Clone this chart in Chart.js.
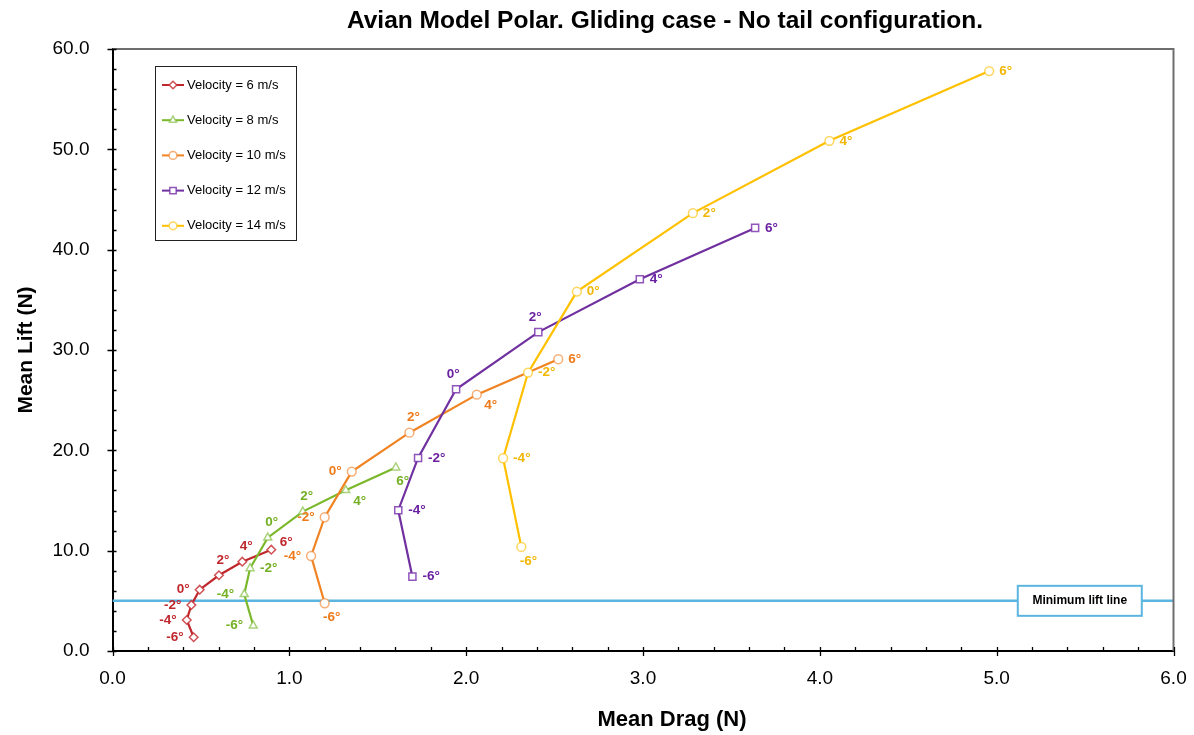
<!DOCTYPE html>
<html>
<head>
<meta charset="utf-8">
<script src="https://cdn.jsdelivr.net/npm/chart.js@4.4.1/dist/chart.umd.min.js"></script>
<style>
html,body{margin:0;padding:0;background:#fff;}
#wrap{width:1194px;height:735px;position:relative;}
</style>
</head>
<body>
<div id="wrap"><canvas id="c" width="1194" height="735"></canvas></div>
<script>
// ---------------- DATA ----------------
const chartTitle = 'Avian Model Polar. Gliding case - No tail configuration.';
const xAxisTitle = 'Mean Drag (N)';
const yAxisTitle = 'Mean Lift (N)';
const angles = [-6, -4, -2, 0, 2, 4, 6];
const seriesNames = ['Velocity = 6 m/s', 'Velocity = 8 m/s', 'Velocity = 10 m/s', 'Velocity = 12 m/s', 'Velocity = 14 m/s'];
const drag6  = [0.459, 0.420, 0.446, 0.493, 0.602, 0.734, 0.898];
const lift6  = [1.37, 3.09, 4.59, 6.11, 7.55, 8.90, 10.10];
const drag8  = [0.796, 0.745, 0.778, 0.878, 1.076, 1.319, 1.602];
const lift8  = [2.52, 5.65, 8.24, 11.30, 13.89, 16.02, 18.28];
const drag10 = [1.200, 1.123, 1.200, 1.353, 1.679, 2.060, 2.521];
const lift10 = [4.76, 9.47, 13.33, 17.88, 21.76, 25.55, 29.08];
const drag12 = [1.696, 1.616, 1.728, 1.943, 2.408, 2.982, 3.634];
const lift12 = [7.41, 14.03, 19.24, 26.09, 31.78, 37.06, 42.17];
const drag14 = [2.312, 2.209, 2.350, 2.626, 3.282, 4.054, 4.958];
const lift14 = [10.37, 19.21, 27.75, 35.82, 43.64, 50.85, 57.80];
const minLift = 5.0;
const minLiftLabel = 'Minimum lift line';
const minLiftLabelAt = 5.47;
const xTickLabels = ['0.0', '1.0', '2.0', '3.0', '4.0', '5.0', '6.0'];
const yTickLabels = ['0.0', '10.0', '20.0', '30.0', '40.0', '50.0', '60.0'];

// ---------------- STYLE ----------------
const FONT = '"Liberation Sans", Arial, Helvetica, sans-serif';
const lineColors  = ['#C0272D', '#7AB82A', '#F08322', '#7030A0', '#FFC000'];
const markerColors = ['rgba(200,50,55,0.85)', 'rgba(140,195,80,0.75)', 'rgba(242,140,60,0.7)', 'rgba(125,55,175,0.85)', 'rgba(255,200,40,0.75)'];
const textColors  = ['#C0272D', '#73B023', '#EE7A1A', '#6A20A0', '#F2B705'];
const pointStyles = ['rectRot', 'triangle', 'circle', 'rect', 'circle'];
const pointRadii  = [4.3, 4.6, 4.4, 5, 4.4];
// label placement per point: l=left, r=right, t=top, tl=top-left, tr=top-right, b=bottom, br=bottom-right
const placements = [
  ['l', 'l', 'l', 'l', 't', 't', 'tr'],
  ['l', 'l', 'r', 't', 't', 'br', 'b'],
  ['b', 'l', 'l', 'l', 't', 'br', 'r'],
  ['r', 'r', 'r', 'tl', 'tl', 'r', 'r'],
  ['b', 'r', 'r', 'r', 'r', 'r', 'r']
];

const dragSets = [drag6, drag8, drag10, drag12, drag14];
const liftSets = [lift6, lift8, lift10, lift12, lift14];

const datasets = seriesNames.map((name, i) => ({
  label: name,
  data: dragSets[i].map((d, k) => ({x: d, y: liftSets[i][k]})),
  showLine: true,
  borderColor: lineColors[i],
  backgroundColor: lineColors[i],
  borderWidth: 2.2,
  pointStyle: pointStyles[i],
  pointRadius: pointRadii[i],
  pointBorderWidth: 1.5,
  pointBackgroundColor: '#ffffff',
  pointBorderColor: markerColors[i],
  order: 5 - i,
  isSeries: true
}));
datasets.push({
  label: minLiftLabel,
  data: [{x: 0, y: minLift}, {x: 6, y: minLift}],
  showLine: true,
  borderColor: '#5BB5E0',
  borderWidth: 2.5,
  pointRadius: 0,
  order: 10,
  isSeries: false
});

const decor = {
  id: 'decor',
  beforeDraw(chart) {
    const ctx = chart.ctx;
    ctx.save();
    ctx.fillStyle = '#fff';
    ctx.fillRect(0, 0, chart.width, chart.height);
    ctx.restore();
  },
  afterDatasetsDraw(chart) {
    const ctx = chart.ctx;
    const xs = chart.scales.x, ys = chart.scales.y;
    const a = chart.chartArea;
    ctx.save();
    // plot frame top & right
    ctx.strokeStyle = '#6E6E6E';
    ctx.lineWidth = 2;
    ctx.beginPath();
    ctx.moveTo(a.left, a.top);
    ctx.lineTo(a.right, a.top);
    ctx.lineTo(a.right, a.bottom);
    ctx.stroke();

    // ticks
    ctx.strokeStyle = '#000';
    ctx.lineWidth = 1.3;
    ctx.beginPath();
    for (let v = 0; v <= 6.0001; v += 0.2) {
      const px = Math.round(xs.getPixelForValue(v)) + 0.5;
      const major = Math.abs(v - Math.round(v)) < 1e-6;
      ctx.moveTo(px, a.bottom - 4);
      ctx.lineTo(px, a.bottom + (major ? 5 : 0));
    }
    for (let v = 0; v <= 60.0001; v += 2) {
      const py = Math.round(ys.getPixelForValue(v)) + 0.5;
      const major = Math.abs(v / 10 - Math.round(v / 10)) < 1e-6;
      ctx.moveTo(a.left - (major ? 5 : 0), py);
      ctx.lineTo(a.left + 4, py);
    }
    ctx.stroke();

    // min lift label box
    const bx = xs.getPixelForValue(minLiftLabelAt), by = ys.getPixelForValue(minLift);
    ctx.font = 'bold 12px ' + FONT;
    const bw = 124, bh = 30;
    ctx.fillStyle = '#fff';
    ctx.fillRect(bx - bw / 2, by - bh / 2, bw, bh);
    ctx.strokeStyle = '#5BB5E0';
    ctx.lineWidth = 2;
    ctx.strokeRect(bx - bw / 2, by - bh / 2, bw, bh);
    ctx.fillStyle = '#000';
    ctx.textAlign = 'center';
    ctx.textBaseline = 'middle';
    ctx.fillText(minLiftLabel, bx, by);

    // point labels
    ctx.font = 'bold 13.5px ' + FONT;
    chart.data.datasets.forEach((ds, i) => {
      if (!ds.isSeries) return;
      const meta = chart.getDatasetMeta(i);
      meta.data.forEach((pt, k) => {
        const txt = angles[k] + '°';
        const p = placements[i][k];
        let x = pt.x, y = pt.y, al = 'center';
        if (p === 'l') { x -= 10; al = 'right'; }
        else if (p === 'r') { x += 10; al = 'left'; }
        else if (p === 't') { x += 4; y -= 15; }
        else if (p === 'tl') { x -= 3; y -= 15; }
        else if (p === 'tr') { x += 15; y -= 7; }
        else if (p === 'b') { x += 7; y += 14; }
        else if (p === 'br') { x += 14; y += 11; }
        ctx.fillStyle = textColors[i];
        ctx.textAlign = al;
        ctx.textBaseline = 'middle';
        ctx.fillText(txt, x, y);
      });
    });

    // legend
    const lx = 155, ly = 66, lw = 141, lh = 174;
    ctx.fillStyle = '#fff';
    ctx.fillRect(lx, ly, lw, lh);
    ctx.strokeStyle = '#222';
    ctx.lineWidth = 1;
    ctx.strokeRect(lx + 0.5, ly + 0.5, lw, lh);
    ctx.font = '13px ' + FONT;
    chart.data.datasets.forEach((ds, i) => {
      if (!ds.isSeries) return;
      const ry = 85 + i * 35.2;
      ctx.strokeStyle = lineColors[i];
      ctx.lineWidth = 2;
      ctx.beginPath();
      ctx.moveTo(162, ry);
      ctx.lineTo(184, ry);
      ctx.stroke();
      ctx.fillStyle = '#fff';
      ctx.strokeStyle = markerColors[i];
      ctx.lineWidth = 1.5;
      Chart.helpers.drawPoint(ctx, {pointStyle: pointStyles[i], radius: pointRadii[i] - 0.5, borderWidth: 1.5, rotation: 0}, 173, ry);
      ctx.fillStyle = '#000';
      ctx.textAlign = 'left';
      ctx.textBaseline = 'middle';
      ctx.fillText(ds.label, 187, ry);
    });

    // titles
    ctx.fillStyle = '#000';
    ctx.textAlign = 'center';
    ctx.textBaseline = 'middle';
    ctx.font = 'bold 24.5px ' + FONT;
    ctx.fillText(chartTitle, 665, 21);
    ctx.font = 'bold 22px ' + FONT;
    ctx.fillText(xAxisTitle, 672, 720);
    ctx.font = 'bold 21px ' + FONT;
    ctx.save();
    ctx.translate(26, 350);
    ctx.rotate(-Math.PI / 2);
    ctx.fillText(yAxisTitle, 0, 0);
    ctx.restore();
    ctx.restore();
  }
};

new Chart(document.getElementById('c'), {
  type: 'scatter',
  data: {datasets},
  options: {
    responsive: false,
    devicePixelRatio: 1,
    animation: false,
    layout: {padding: {top: 49, right: 20.5, left: 0, bottom: 0}},
    plugins: {legend: {display: false}, title: {display: false}, tooltip: {enabled: false}},
    scales: {
      x: {
        type: 'linear', min: 0, max: 6,
        grid: {display: false},
        border: {display: true, color: '#000', width: 2},
        ticks: {stepSize: 1, padding: 8, color: '#000', font: {family: FONT, size: 19},
          callback: (v, idx) => xTickLabels[idx]},
        afterFit: s => { s.height = 84; s.paddingLeft = 0; s.paddingRight = 0; }
      },
      y: {
        type: 'linear', min: 0, max: 60,
        grid: {display: false},
        border: {display: true, color: '#000', width: 2},
        ticks: {stepSize: 10, padding: 15, color: '#000', font: {family: FONT, size: 19},
          callback: (v, idx) => yTickLabels[idx]},
        afterFit: s => { s.width = 112.5; s.paddingTop = 0; s.paddingBottom = 0; }
      }
    }
  },
  plugins: [decor]
});
</script>
</body>
</html>
